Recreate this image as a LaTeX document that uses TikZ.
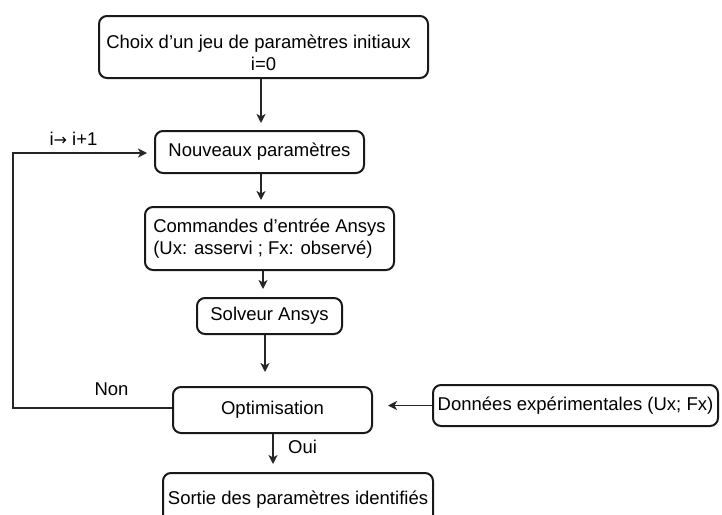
\documentclass[tikz,border=0pt]{standalone}
\usepackage{fontspec}
\setmainfont{Liberation Sans}
\newfontfamily\arrowfont{DejaVu Sans}
\usetikzlibrary{arrows.meta}
\begin{document}
\begin{tikzpicture}[x=1pt,y=-1pt,
  every node/.style={font=\fontsize{18.5}{22}\selectfont, text=black},
  box/.style={draw=black!90, line width=2pt, rounded corners=8pt, inner sep=0pt},
  arr/.style={draw=black!85, line width=1.8pt, -{Stealth[length=9pt,width=9pt,inset=2.5pt]}},
  lbl/.style={inner sep=0pt}
]
\useasboundingbox (0,0) rectangle (722,514);
\clip (0,0) rectangle (722,514);
\node[box, minimum width=329pt, minimum height=62pt] (b1) at (263.5,47) {};
\node[lbl, align=center] (b1t) at (263.5,53) {Choix d’un jeu de paramètres initiaux\hspace*{10pt}\\[0pt] i=0};
\node[box, minimum width=209pt, minimum height=42pt] (b2) at (259.5,152) {Nouveaux paramètres};
\node[box, minimum width=249pt, minimum height=63pt, align=left, font=\fontsize{18.5}{22.5}\selectfont] (b3) at (269.5,238.5) {Commandes d’entrée Ansys\\(Ux: asservi ; Fx: observé)};
\node[box, minimum width=145pt, minimum height=36pt] (b4) at (269.5,316) {Solveur Ansys};
\node[box, minimum width=199pt, minimum height=46pt] (b5) at (272.5,410) {Optimisation};
\node[box, minimum width=285pt, minimum height=41pt] (b6) at (575.5,405.5) {Données expérimentales (Ux; Fx)};
\node[box, minimum width=270pt, minimum height=54pt] (b7) at (298,500) {Sortie des paramètres identifiés};
\coordinate (loop) at (13,153);
\draw[arr, shorten >=7pt] ([xshift=-2.5pt]b1.south) -- ([xshift=-2.5pt]b1.south |- b2.north);
\draw[arr, shorten >=6pt] ([xshift=1.5pt]b2.south) -- ([xshift=1.5pt]b2.south |- b3.north);
\draw[arr, shorten >=8pt] ([xshift=-6.5pt]b3.south) -- ([xshift=-6.5pt]b3.south |- b4.north);
\draw[arr, shorten >=14pt] ([xshift=-4.5pt]b4.south) -- ([xshift=-4.5pt]b4.south |- b5.north);
\draw[arr, shorten >=8pt] ([xshift=0.5pt]b5.south) -- ([xshift=0.5pt]b5.south |- b7.north);
\draw[arr, shorten >=15pt] (b6.west) -- (b6.west -| b5.east);
\draw[arr, shorten >=7pt] ([yshift=2pt]b5.west) -| (loop) -- (loop -| b2.west);
\node[lbl] (l1) at (73.5,139) {i{\arrowfont\fontsize{16}{16}\selectfont →} i+1};
\node[lbl] (l2) at (111.5,389) {Non};
\node[lbl] (l3) at (302.5,447) {Oui};
\end{tikzpicture}
\end{document}
